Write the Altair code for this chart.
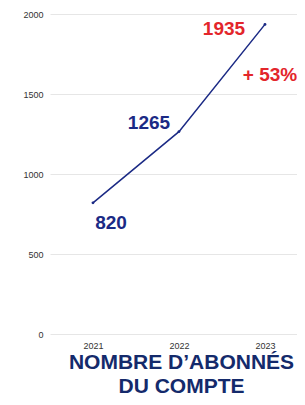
import altair as alt
import pandas as pd

years = ["2021", "2022", "2023"]
subscribers = [820, 1265, 1935]
growth_label = "+ 53%"
title_lines = ["NOMBRE D\u2019ABONNÉS", "DU COMPTE"]

df = pd.DataFrame({"year": years, "value": subscribers})

navy = "#1b2a85"
red = "#e3262b"
font = "Liberation Sans"

x = alt.X("year:O", scale=alt.Scale(type="point", padding=0.436, align=0.573),
          axis=alt.Axis(title=None, labelAngle=0, ticks=False, domain=False,
                        grid=False, labelPadding=7, labelFontSize=9,
                        labelColor="#333333", labelFont=font))
y = alt.Y("value:Q", scale=alt.Scale(domain=[0, 2000]),
          axis=alt.Axis(title=None, values=[0, 500, 1000, 1500, 2000], format="d",
                        ticks=False, domain=False, labelPadding=7, labelFontSize=9,
                        labelColor="#333333", labelFont=font,
                        gridColor="#e6e6e6", gridWidth=1))

base = alt.Chart(df)
line = base.mark_line(color=navy, strokeWidth=1.5, point=alt.OverlayMarkDef(color=navy, size=8)).encode(x=x, y=y)

def label(yr, dx, dy, color):
    return base.transform_filter(alt.datum.year == yr).mark_text(
        font=font, fontSize=19, fontWeight="bold", color=color, dx=dx, dy=dy
    ).encode(x=x, y=y, text=alt.Text("value:Q"))

l1 = label("2021", 18, 20, navy)
l2 = label("2022", -30, -9, navy)
l3 = label("2023", -41, 5, red)
growth = base.transform_filter(alt.datum.year == "2023").mark_text(
    font=font, fontSize=19, fontWeight="bold", color=red, dx=5, dy=51
).encode(x=x, y=y, text=alt.value(growth_label))

chart = alt.layer(line, l1, l2, l3, growth).properties(
    width=247, height=320,
    autosize=alt.AutoSizeParams(type="none"),
    padding={"left": 42, "top": 6, "right": 0, "bottom": 62},
    title=alt.TitleParams(text=title_lines, orient="bottom", anchor="middle",
                          font=font, fontSize=21, fontWeight="bold", color="#142a6b",
                          offset=2, lineHeight=24, dx=8),
).configure_view(stroke=None)

chart.save("out.html", embed_options={"renderer": "svg", "actions": False})
